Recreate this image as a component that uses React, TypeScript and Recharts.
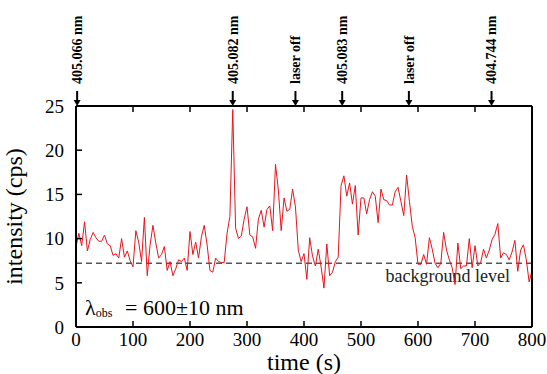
import React from 'react';
import { LineChart, Line, XAxis, YAxis, ReferenceLine } from 'recharts';

// counts per 5 s bin, t = 0 ... 800 s
const intensity = [
  9.1, 10.6, 9.2, 11.9, 8.6, 9.9, 10.7, 10.1, 9.7, 9.7,
  10.4, 9.4, 9.2, 8.1, 8.3, 7.8, 10.0, 7.9, 8.6, 7.5,
  6.8, 10.9, 9.6, 7.4, 12.4, 5.8, 9.3, 11.5, 9.5, 7.8,
  8.2, 9.1, 6.4, 7.4, 5.8, 6.6, 7.6, 7.4, 7.8, 6.4,
  10.8, 8.2, 9.6, 7.8, 10.2, 11.5, 9.3, 6.4, 6.2, 7.8,
  7.4, 7.3, 7.3, 10.6, 12.5, 24.6, 11.2, 10.0, 10.3, 12.2,
  13.6, 10.4, 10.2, 8.9, 12.2, 13.2, 11.3, 13.3, 13.7, 10.9,
  18.4, 15.5, 10.9, 14.6, 13.1, 13.3, 15.6, 13.6, 8.7, 7.4,
  8.3, 5.4, 10.1, 8.0, 6.9, 8.8, 6.8, 4.4, 9.4, 5.8,
  6.2, 7.4, 7.9, 16.0, 17.1, 14.8, 16.3, 13.9, 16.0, 10.4,
  14.6, 14.6, 12.8, 14.4, 15.3, 14.8, 11.8, 15.6, 14.4, 14.3,
  13.8, 13.8, 15.3, 15.8, 14.2, 12.6, 17.2, 14.2, 11.4, 10.1,
  7.1, 7.1, 8.2, 7.1, 10.1, 8.8, 7.2, 6.7, 7.2, 10.7,
  8.7, 7.6, 6.7, 4.8, 9.5, 6.6, 6.9, 6.9, 10.0, 6.7,
  9.2, 6.9, 7.3, 8.8, 7.8, 8.7, 9.9, 10.5, 11.7, 7.8,
  8.4, 8.2, 7.6, 8.5, 9.8, 6.3, 8.7, 9.3, 7.6, 5.1,
  6.4,
];
const binWidth = 5;

const xTicks = [0, 100, 200, 300, 400, 500, 600, 700, 800];
const yTicks = [0, 5, 10, 15, 20, 25];

const backgroundLevel = 7.2;

const markerTimes = [2, 275, 385, 467, 584, 729];
const markerLabels = ['405.066 nm', '405.082 nm', 'laser off', '405.083 nm', 'laser off', '404.744 nm'];

const data = intensity.map((v, i) => ({ t: i * binWidth, v }));

const serif = '"Liberation Serif", "Times New Roman", serif';

const Marker = (label: string) => (props: any) => {
  const x = props.x1;
  const top = Math.min(props.y1, props.y2);
  return (
    <g>
      <line x1={x} x2={x} y1={top - 15} y2={top - 5} stroke="#000" strokeWidth={2} />
      <polygon points={`${x - 3.5},${top - 6} ${x + 3.5},${top - 6} ${x},${top}`} fill="#000" />
      <text
        transform={`translate(${x}, ${top - 22}) rotate(-90)`}
        dy="0.35em"
        textAnchor="start"
        fontFamily={serif}
        fontWeight="bold"
        fontSize={14}
        fill="#000"
      >
        {label}
      </text>
    </g>
  );
};

const BackgroundLabel = (props: any) => {
  const vb = props.viewBox;
  return (
    <text
      x={vb.x + vb.width - 22}
      y={vb.y + 19}
      textAnchor="end"
      fontFamily={serif}
      fontSize={18}
      fill="#222"
    >
      background level
    </text>
  );
};

const App: React.FC = () => {
  const tickStyle = { fill: '#000', fontFamily: serif, fontSize: 19 };
  return (
    <div style={{ position: 'absolute', left: 0, top: 0, background: '#fff' }}>
      <LineChart width={547} height={374} data={data} margin={{ top: 105, right: 14, left: 0, bottom: 0 }}>
        <XAxis
          xAxisId="bottom"
          dataKey="t"
          type="number"
          domain={[0, 800]}
          ticks={xTicks}
          height={47}
          tickSize={-6}
          tickMargin={12}
          axisLine={{ stroke: '#000', strokeWidth: 2 }}
          tickLine={{ stroke: '#000', strokeWidth: 1.5 }}
          tick={tickStyle}
          label={{ value: 'time (s)', position: 'insideBottom', offset: 4, fontFamily: serif, fontSize: 24, fill: '#000' }}
        />
        <XAxis
          xAxisId="top"
          orientation="top"
          dataKey="t"
          type="number"
          domain={[0, 800]}
          ticks={xTicks}
          height={1}
          tickSize={-6}
          tickFormatter={() => ''}
          axisLine={{ stroke: '#000', strokeWidth: 2 }}
          tickLine={{ stroke: '#000', strokeWidth: 1.5 }}
        />
        <YAxis
          yAxisId="left"
          type="number"
          domain={[0, 25]}
          ticks={yTicks}
          width={76}
          tickSize={-6}
          tickMargin={18}
          axisLine={{ stroke: '#000', strokeWidth: 2 }}
          tickLine={{ stroke: '#000', strokeWidth: 1.5 }}
          tick={tickStyle}
          label={{ value: 'intensity (cps)', angle: -90, position: 'insideLeft', offset: 13, fontFamily: serif, fontSize: 24, fill: '#000', style: { textAnchor: 'middle' } }}
        />
        <YAxis
          yAxisId="right"
          orientation="right"
          type="number"
          domain={[0, 25]}
          ticks={yTicks}
          width={1}
          tickSize={-6}
          tickFormatter={() => ''}
          axisLine={{ stroke: '#000', strokeWidth: 2 }}
          tickLine={{ stroke: '#000', strokeWidth: 1.5 }}
        />
        <ReferenceLine
          xAxisId="bottom"
          yAxisId="left"
          y={backgroundLevel}
          stroke="#555"
          strokeWidth={1.5}
          strokeDasharray="6 4"
          label={<BackgroundLabel />}
        />
        <Line
          xAxisId="bottom"
          yAxisId="left"
          type="linear"
          dataKey="v"
          stroke="#e8141c"
          strokeWidth={1}
          dot={false}
          isAnimationActive={false}
        />
        {markerTimes.map((t, i) => (
          <ReferenceLine
            key={i}
            xAxisId="bottom"
            yAxisId="left"
            x={t}
            ifOverflow="visible"
            shape={Marker(markerLabels[i])}
          />
        ))}
        <text x={85} y={315} fontFamily={serif} fontSize={22} fill="#000">
          λ
          <tspan fontSize={12} dy={2}>obs</tspan>
          <tspan x={125} dy={-2}>{'= 600\u00b110 nm'}</tspan>
        </text>
      </LineChart>
    </div>
  );
};

export default App;
